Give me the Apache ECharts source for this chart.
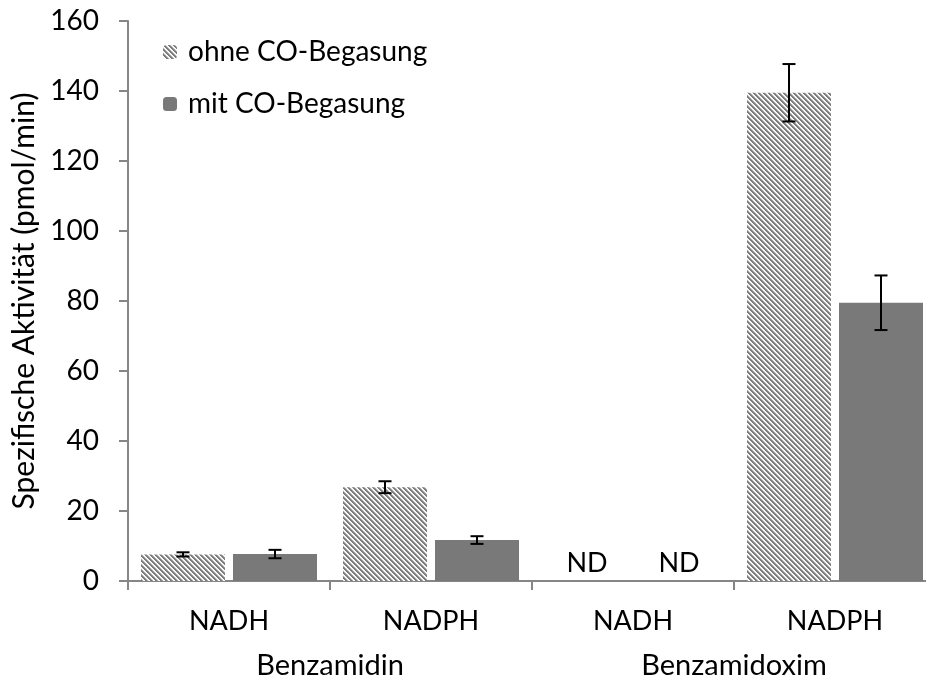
<!DOCTYPE html>
<html>
<head>
<meta charset="utf-8">
<script src="https://cdn.jsdelivr.net/npm/echarts@6/dist/echarts.min.js"></script>
<style>
html,body{margin:0;padding:0;background:#fff;}
#chart{width:926px;height:682px;}
</style>
</head>
<body>
<div id="chart"></div>
<script>
// ---- data ----
const categories = ['NADH', 'NADPH', 'NADH', 'NADPH'];
const groups = ['Benzamidin', 'Benzamidoxim'];
const seriesNames = ['ohne CO-Begasung', 'mit CO-Begasung'];
const ohneValues = [7.6, 26.8, null, 139.5];   // null = ND
const ohneErrors = [0.6, 1.7, null, 8.2];
const mitValues = [7.7, 11.7, null, 79.5];
const mitErrors = [1.2, 1.1, null, 7.8];
const yTicks = [0, 20, 40, 60, 80, 100, 120, 140, 160];

// ---- styles ----
const FONT = 'Lato';
const TEXT = '#000';
const AXIS = '#868686';
const SOLID = '#797979';
const BAR_W = 84;
const BAR_GAP = 8;

function makeHatch() {
  const s = 5;
  const c = document.createElement('canvas');
  c.width = s; c.height = s;
  const ctx = c.getContext('2d');
  const img = ctx.createImageData(s, s);
  const shades = [125, 125, 165, 240, 255];
  for (let y = 0; y < s; y++) {
    for (let x = 0; x < s; x++) {
      const k = (((x - y) % s) + s) % s;
      const v = shades[k];
      const i = (y * s + x) * 4;
      img.data[i] = v; img.data[i + 1] = v; img.data[i + 2] = v; img.data[i + 3] = 255;
    }
  }
  ctx.putImageData(img, 0, 0);
  return c;
}
const hatch = { image: makeHatch(), repeat: 'repeat' };

function barData(vals) {
  return vals.map(v => v === null
    ? { value: 0, label: { show: true, formatter: 'ND', position: 'top', distance: 4,
        color: TEXT, fontFamily: FONT, fontSize: 27 } }
    : v);
}
function errData(vals, errs, sIdx) {
  const out = [];
  vals.forEach((v, i) => { if (v !== null) out.push([i, v, errs[i], sIdx]); });
  return out;
}

function renderErr(params, api) {
  const ci = api.value(0), v = api.value(1), e = api.value(2), s = api.value(3);
  const hi = api.coord([ci, v + e]);
  const lo = api.coord([ci, v - e]);
  const off = (BAR_W + BAR_GAP) / 2;
  const x = hi[0] + (s === 0 ? -off : off);
  const cap = 6.5;
  const st = { stroke: '#000', lineWidth: 2 };
  return {
    type: 'group',
    children: [
      { type: 'line', shape: { x1: x, y1: hi[1], x2: x, y2: lo[1] }, style: st },
      { type: 'line', shape: { x1: x - cap, y1: hi[1], x2: x + cap, y2: hi[1] }, style: st },
      { type: 'line', shape: { x1: x - cap, y1: lo[1], x2: x + cap, y2: lo[1] }, style: st }
    ]
  };
}

const chart = echarts.init(document.getElementById('chart'), null, { renderer: 'canvas' });
chart.setOption({
  animation: false,
  backgroundColor: '#fff',
  textStyle: { fontFamily: FONT },
  legend: {
    orient: 'vertical',
    left: 158,
    top: 33,
    itemWidth: 14,
    itemHeight: 14,
    itemGap: 24,
    selectedMode: false,
    data: seriesNames,
    textStyle: { fontFamily: FONT, fontSize: 28, color: TEXT, padding: [0, 0, 0, 6] }
  },
  grid: { left: 128, top: 21, width: 808, height: 560, containLabel: false, outerBoundsMode: 'none' },
  xAxis: [
    {
      type: 'category',
      data: categories,
      position: 'bottom',
      axisLine: { lineStyle: { color: AXIS, width: 2 } },
      axisTick: { show: true, length: 9, lineStyle: { color: AXIS, width: 2 } },
      axisLabel: { color: TEXT, fontFamily: FONT, fontSize: 27, margin: 27 }
    },
    {
      type: 'category',
      data: groups,
      position: 'bottom',
      offset: 0,
      axisLine: { show: false },
      axisTick: { show: false },
      axisLabel: { color: TEXT, fontFamily: FONT, fontSize: 29, margin: 70 }
    }
  ],
  yAxis: {
    type: 'value',
    min: yTicks[0],
    max: yTicks[yTicks.length - 1],
    interval: 20,
    name: 'Spezifische Aktivität (pmol/min)',
    nameLocation: 'middle',
    nameGap: 84,
    nameTextStyle: { color: TEXT, fontFamily: FONT, fontSize: 30 },
    axisLine: { show: true, lineStyle: { color: AXIS, width: 2 } },
    axisTick: { show: true, length: 9, lineStyle: { color: AXIS, width: 2 } },
    axisLabel: { color: TEXT, fontFamily: FONT, fontSize: 28, margin: 29 },
    splitLine: { show: false }
  },
  series: [
    {
      name: seriesNames[0], type: 'bar', xAxisIndex: 0,
      barWidth: BAR_W, barGap: (BAR_GAP / BAR_W * 100) + '%',
      itemStyle: { color: hatch },
      data: barData(ohneValues)
    },
    {
      name: seriesNames[1], type: 'bar', xAxisIndex: 0,
      barWidth: BAR_W, barGap: (BAR_GAP / BAR_W * 100) + '%',
      itemStyle: { color: SOLID },
      data: barData(mitValues)
    },
    {
      type: 'custom', xAxisIndex: 0, renderItem: renderErr, z: 5,
      encode: { x: 0, y: 1 },
      data: errData(ohneValues, ohneErrors, 0).concat(errData(mitValues, mitErrors, 1))
    }
  ]
});
</script>
</body>
</html>
